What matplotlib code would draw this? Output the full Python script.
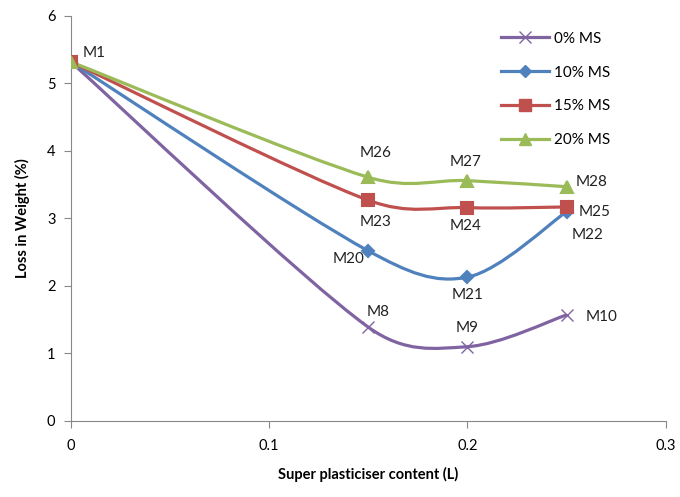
import matplotlib
matplotlib.use("Agg")
import matplotlib.pyplot as plt
import numpy as np
from matplotlib.path import Path
from matplotlib.patches import PathPatch

plt.rcParams['font.family'] = ['Lato', 'DejaVu Sans']

sp_content = [0, 0.15, 0.2, 0.25]
series_names = ['0% MS', '10% MS', '15% MS', '20% MS']
loss_0 = [5.32, 1.39, 1.10, 1.57]
loss_10 = [5.32, 2.52, 2.13, 3.10]
loss_15 = [5.32, 3.27, 3.16, 3.17]
loss_20 = [5.32, 3.61, 3.56, 3.47]
mix_labels = [
    ['M1', 'M8', 'M9', 'M10'],
    [None, 'M20', 'M21', 'M22'],
    [None, 'M23', 'M24', 'M25'],
    [None, 'M26', 'M27', 'M28'],
]

colors = ['#8064A2', '#4F81BD', '#C0504D', '#9BBB59']
markers = ['x', 'D', 's', '^']
msizes = [8, 6, 9, 9]
# label offsets in pixels (dx, dy)
offsets = [
    [(23, 9), (10, 15), (0, 19), (35, -2)],
    [None, (-20, -8), (0, -18), (21, -23)],
    [None, (7, -22), (-2, -18), (28, -5)],
    [None, (7, 24), (-2, 19), (25, 5)],
]


def ctrl(arm, seg_len):
    # 1/6 of neighbour chord, capped relative to the segment length
    arm = arm / 6
    ln = np.hypot(*arm)
    cap = seg_len * 0.45
    if ln > cap:
        arm = arm * cap / ln
    return arm


def smooth_path(ax, x, y):
    # excel-like smoothing, done in screen space then mapped back
    pts = ax.transData.transform(np.column_stack([x, y]))
    n = len(pts)
    verts = [pts[0]]
    codes = [Path.MOVETO]
    for i in range(n - 1):
        p0 = pts[i - 1] if i > 0 else pts[i]
        p1 = pts[i]
        p2 = pts[i + 1]
        p3 = pts[i + 2] if i + 2 < n else pts[i + 1]
        d12 = np.hypot(*(p2 - p1))
        c1 = p1 + ctrl(p2 - p0, d12)
        c2 = p2 - ctrl(p3 - p1, d12)
        verts += [c1, c2, p2]
        codes += [Path.CURVE4] * 3
    verts = ax.transData.inverted().transform(np.array(verts))
    return Path(verts, codes)


fig = plt.figure(figsize=(6.8, 4.97), dpi=100)
ax = fig.add_axes([0.104, 0.153, 0.875, 0.815])
ax.set_xlim(0, 0.3)
ax.set_ylim(0, 6)

all_series = [loss_0, loss_10, loss_15, loss_20]
for k, vals in enumerate(all_series):
    patch = PathPatch(smooth_path(ax, sp_content, vals), facecolor='none',
                      edgecolor=colors[k], lw=2.3, zorder=2 + k)
    ax.add_patch(patch)
    ax.plot(sp_content, vals, ls='none', marker=markers[k], ms=msizes[k],
            color=colors[k], mew=1.5 if markers[k] != 'x' else 1.0, zorder=6 + k)
    ax.plot([], [], color=colors[k], lw=2.3, marker=markers[k], ms=msizes[k],
            mew=1.0, label=series_names[k])
    for j, lab in enumerate(mix_labels[k]):
        if lab is None:
            continue
        ax.annotate(lab, (sp_content[j], vals[j]), xytext=offsets[k][j],
                    textcoords='offset pixels', ha='center', va='center',
                    fontsize=11, color='#222222')

ax.set_xticks([0, 0.1, 0.2, 0.3])
ax.set_xticklabels(['0', '0.1', '0.2', '0.3'])
ax.set_yticks(range(7))
for s in ['top', 'right']:
    ax.spines[s].set_visible(False)
for s in ['left', 'bottom']:
    ax.spines[s].set_color('#888888')
ax.tick_params(direction='out', length=5, color='#888888', labelsize=10.5, pad=8)
ax.tick_params(axis='y', pad=6)

ax.set_xlabel('Super plasticiser content (L)', fontsize=10.5, fontweight='bold', labelpad=10)
ax.set_ylabel('Loss in Weight (%)', fontsize=10.5, fontweight='bold', labelpad=12)

ax.legend(loc='upper right', bbox_to_anchor=(0.93, 0.995), frameon=False,
          fontsize=11, handlelength=3.2, labelspacing=1.3, handletextpad=0.3)

fig.savefig('out.png', dpi=100)
